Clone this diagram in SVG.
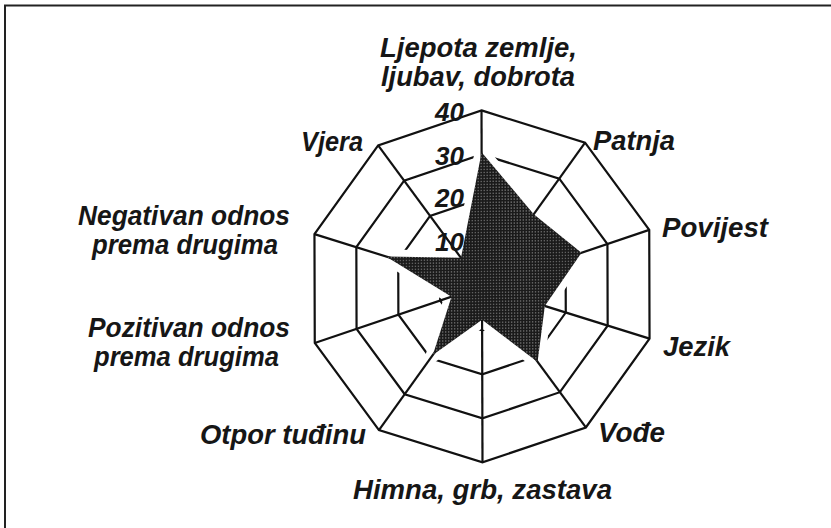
<svg xmlns="http://www.w3.org/2000/svg" width="831" height="528" viewBox="0 0 831 528">
<style>
.ring{fill:none;stroke:#111;stroke-width:2.2;stroke-linejoin:miter}
.spoke{stroke:#111;stroke-width:2.2}
.lbl{font-family:"Liberation Sans",Arial,sans-serif;font-weight:bold;font-style:italic;font-size:28px;fill:#161616}
.num{font-family:"Liberation Sans",Arial,sans-serif;font-weight:bold;font-style:italic;font-size:26px;fill:#161616;text-anchor:end}
</style>
<defs>
<pattern id="stip" width="3" height="3" patternUnits="userSpaceOnUse">
<rect width="3" height="3" fill="#1a1a1a"/>
<rect x="1" y="1" width="1" height="1" fill="#b8b8b8"/>
</pattern>
</defs>
<rect width="831" height="528" fill="#fff"/>
<g id="frame" stroke="#222" stroke-width="2" fill="none">
<path d="M5,528 V5.5 H831"/>
</g>
<g id="chart" transform="matrix(1 -0.0128 0.0028 1 -0.80 6.17)">
<g id="rings">
<polygon class="ring" points="482,110.4 585.45,144.02 649.39,232.02 649.39,340.78 585.45,428.78 482,462.4 378.55,428.78 314.61,340.78 314.61,232.02 378.55,144.02"/>
<polygon class="ring" points="482,154.4 559.59,179.61 607.55,245.61 607.55,327.19 559.59,393.19 482,418.4 404.41,393.19 356.45,327.19 356.45,245.61 404.41,179.61"/>
<polygon class="ring" points="482,198.4 533.73,215.21 565.7,259.21 565.7,313.59 533.73,357.59 482,374.4 430.27,357.59 398.3,313.59 398.3,259.21 430.27,215.21"/>
<polygon class="ring" points="482,242.4 507.86,250.8 523.85,272.8 523.85,300 507.86,322 482,330.4 456.14,322 440.15,300 440.15,272.8 456.14,250.8"/>
</g>
<polygon id="halo" points="482,152.2 533.96,214.88 581.58,254.05 544.77,306.79 537.37,362.61 482,319.8 432.62,354.36 451.47,296.32 386.13,255.25 461.07,257.6" fill="#fff" stroke="#fff" stroke-width="14" stroke-linejoin="round"/>
<g id="spokes">
<line class="spoke" x1="482" y1="286.4" x2="482" y2="110.4"/>
<line class="spoke" x1="482" y1="286.4" x2="585.45" y2="144.02"/>
<line class="spoke" x1="482" y1="286.4" x2="649.39" y2="232.02"/>
<line class="spoke" x1="482" y1="286.4" x2="649.39" y2="340.78"/>
<line class="spoke" x1="482" y1="286.4" x2="585.45" y2="428.78"/>
<line class="spoke" x1="482" y1="286.4" x2="482" y2="462.4"/>
<line class="spoke" x1="482" y1="286.4" x2="378.55" y2="428.78"/>
<line class="spoke" x1="482" y1="286.4" x2="314.61" y2="340.78"/>
<line class="spoke" x1="482" y1="286.4" x2="314.61" y2="232.02"/>
<line class="spoke" x1="482" y1="286.4" x2="378.55" y2="144.02"/>
</g>
<polygon id="data" points="482,152.2 533.96,214.88 581.58,254.05 544.77,306.79 537.37,362.61 482,319.8 432.62,354.36 451.47,296.32 386.13,255.25 461.07,257.6" fill="url(#stip)"/>
</g>
<g id="scale">
<text class="num" x="464" y="120.5">40</text>
<text class="num" x="464" y="165">30</text>
<text class="num" x="464" y="207">20</text>
<text class="num" x="464" y="250.5">10</text>
</g>
<g id="labels">
<text class="lbl" x="380" y="57" textLength="197" lengthAdjust="spacingAndGlyphs">Ljepota zemlje,</text>
<text class="lbl" x="381" y="86" textLength="194" lengthAdjust="spacingAndGlyphs">ljubav, dobrota</text>
<text class="lbl" x="593" y="150" textLength="82" lengthAdjust="spacingAndGlyphs">Patnja</text>
<text class="lbl" x="301" y="151" textLength="62" lengthAdjust="spacingAndGlyphs">Vjera</text>
<text class="lbl" x="662" y="237" textLength="106" lengthAdjust="spacingAndGlyphs">Povijest</text>
<text class="lbl" x="78" y="225" textLength="212" lengthAdjust="spacingAndGlyphs">Negativan odnos</text>
<text class="lbl" x="92" y="254" textLength="186" lengthAdjust="spacingAndGlyphs">prema drugima</text>
<text class="lbl" x="88" y="337" textLength="202" lengthAdjust="spacingAndGlyphs">Pozitivan odnos</text>
<text class="lbl" x="94" y="366" textLength="185" lengthAdjust="spacingAndGlyphs">prema drugima</text>
<text class="lbl" x="663" y="356" textLength="67" lengthAdjust="spacingAndGlyphs">Jezik</text>
<text class="lbl" x="200" y="444" textLength="166" lengthAdjust="spacingAndGlyphs">Otpor tuđinu</text>
<text class="lbl" x="598" y="442" textLength="67" lengthAdjust="spacingAndGlyphs">Vođe</text>
<text class="lbl" x="353" y="499" textLength="259" lengthAdjust="spacingAndGlyphs">Himna, grb, zastava</text>
</g>
</svg>
